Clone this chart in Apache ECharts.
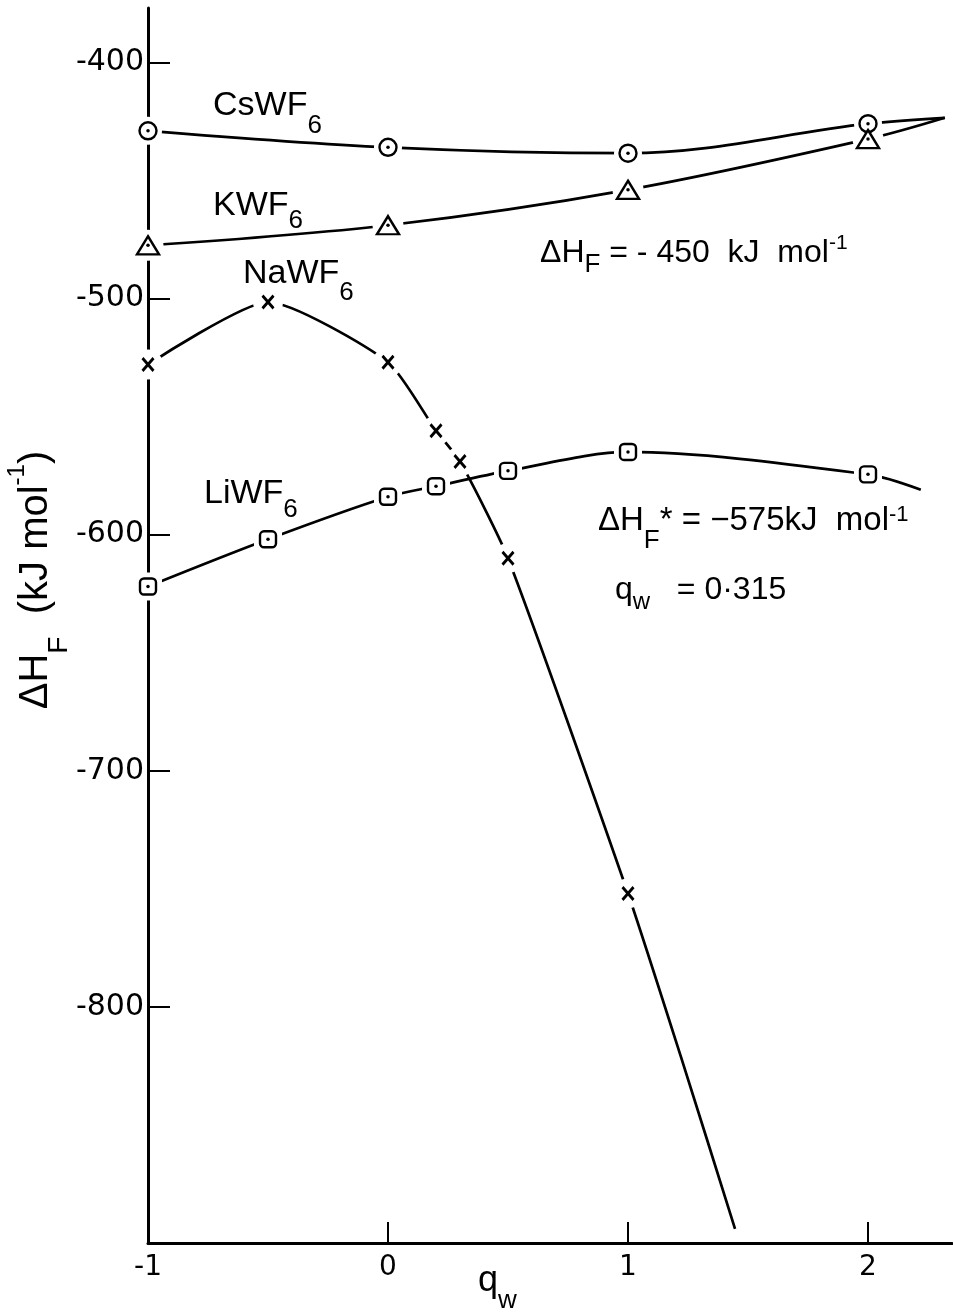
<!DOCTYPE html>
<html><head><meta charset="utf-8">
<script src="https://cdn.jsdelivr.net/npm/echarts@6/dist/echarts.min.js"></script>
<style>html,body{margin:0;padding:0;background:#fff}#c{width:953px;height:1315px}</style>
</head><body><div id="c"></div>
<script>
// ---- data ----
const qCs = [-1, 0, 1, 2];
const hCs = [-429, -436, -438.5, -426];
const tailCs = [[2.32, -423.5]];           // traced end of the CsWF6 curve
const qK = [-1, 0, 1, 2];
const hK = [-477.5, -469, -454, -432.5];
const tailK = [[2.32, -423.5]];            // traced end of the KWF6 curve
const qNa = [-1, -0.5, 0, 0.2, 0.3, 0.5, 1];
const hNa = [-528, -501.5, -527, -556, -569, -610, -752];
const tailNa = [[1.22, -821], [1.446, -894]]; // traced continuation of NaWF6 curve
const qLi = [-1, -0.5, 0, 0.2, 0.5, 1, 2];
const hLi = [-622, -602, -584, -579.5, -573, -565, -574.5];
const tailLi = [[2.22, -581]];             // traced end of the LiWF6 curve
const xTickLabels = [-1, 0, 1, 2];
const xTickMarks = [0, 1, 2];
const yTickLabels = [-800, -700, -600, -500, -400];

// ---- build ----
const FONT = "'Liberation Sans', Arial, sans-serif";
const TICKFONT = "'DejaVu Sans', 'Liberation Sans', sans-serif";
const zip = (q, h) => q.map((v, i) => [v, h[i]]);
const cs = zip(qCs, hCs), k = zip(qK, hK), na = zip(qNa, hNa), li = zip(qLi, hLi);
const X_PATH = 'path://M0,1.5L1.5,0L5,3.5L8.5,0L10,1.5L6.5,5L10,8.5L8.5,10L5,6.5L1.5,10L0,8.5L3.5,5Z';

function line(name, pts, sm) {
  return { name, type: 'line', data: pts, smooth: sm, symbol: 'none', showSymbol: false,
    lineStyle: { color: '#000', width: 2.7 }, z: 2, silent: true, animation: false };
}
function halo(pts, symbol, size) {
  return { type: 'scatter', data: pts, symbol, symbolSize: size,
    itemStyle: { color: '#fff', borderWidth: 0, opacity: 1 }, z: 3, silent: true };
}
function mark(pts, symbol, size, filled) {
  return { type: 'scatter', data: pts, symbol, symbolSize: size,
    itemStyle: filled ? { color: '#000', opacity: 1 } : { color: '#fff', borderColor: '#000', borderWidth: 2.4, opacity: 1 },
    z: 4, silent: true };
}
function dot(pts) {
  return { type: 'scatter', data: pts, symbol: 'circle', symbolSize: 3.5,
    itemStyle: { color: '#000', opacity: 1 }, z: 5, silent: true };
}

function T(x, y, text, rich, align, rotation) {
  const r = {};
  for (const key in rich) r[key] = Object.assign({ fontFamily: FONT, fill: '#000' }, rich[key]);
  return { type: 'text', x, y, rotation: rotation || 0, z: 100, silent: true,
    style: { text, rich: r, fontFamily: FONT, fontSize: 30, fill: '#000',
      align: align || 'left', verticalAlign: 'middle', textAlign: align || 'left', textVerticalAlign: 'middle' } };
}
const chem = (pad) => ({ m: { fontSize: 34, lineHeight: 34 }, s: { fontSize: 26, lineHeight: 26, padding: [pad, 0, 0, 0] } });

const option = {
  animation: false,
  backgroundColor: '#fff',
  grid: { left: 148, right: 1, top: 8, bottom: 72, containLabel: false },
  xAxis: {
    type: 'value', min: -1, max: 2.35,
    axisLine: { show: true, onZero: false, lineStyle: { color: '#000', width: 3 } },
    axisTick: { show: true, inside: true, length: 21, customValues: xTickMarks, lineStyle: { color: '#000', width: 2 } },
    axisLabel: { show: true, customValues: xTickLabels, fontSize: 28, color: '#000', fontFamily: TICKFONT, margin: 11 },
    splitLine: { show: false }
  },
  yAxis: {
    type: 'value', min: -900, max: -377, interval: 100,
    axisLine: { show: true, onZero: false, lineStyle: { color: '#000', width: 3 } },
    axisTick: { show: true, inside: true, length: 22, customValues: yTickLabels, lineStyle: { color: '#000', width: 2 } },
    axisLabel: { show: true, customValues: yTickLabels, fontSize: 30, color: '#000', fontFamily: TICKFONT, margin: 4 },
    splitLine: { show: false }
  },
  series: [
    line('CsWF6', cs.concat(tailCs), 0.35),
    line('KWF6', k.concat(tailK), 0.35),
    line('NaWF6', na.concat(tailNa), 0.2),
    line('LiWF6', li.concat(tailLi), 0.3),
    halo(cs, 'circle', 28),
    halo(k, 'circle', 31),
    halo(na, 'circle', 30),
    halo(li, 'roundRect', 28),
    mark(cs, 'circle', 17, false),
    mark(k, 'triangle', [22, 18], false),
    mark(na, X_PATH, [13, 15], true),
    mark(li, 'roundRect', 16, false),
    dot(cs), dot(k), dot(li)
  ],
  graphic: [
    T(213, 106, '{m|CsWF}{s|6}', chem(40)),
    T(213, 206, '{m|KWF}{s|6}', chem(30)),
    T(243, 274, '{m|NaWF}{s|6}', chem(38)),
    T(204, 494, '{m|LiWF}{s|6}', chem(32)),
    T(540, 253, '{m|ΔH}{s|F}{m| = - 450  kJ  mol}{p|-1}',
      { m: { fontSize: 32, lineHeight: 32 }, s: { fontSize: 26, lineHeight: 26, padding: [24, 0, 0, 0] },
        p: { fontSize: 21, lineHeight: 21, padding: [0, 0, 20, 0] } }),
    T(598, 521, '{m|ΔH}{s|F}{m|* = −575kJ  mol}{p|-1}',
      { m: { fontSize: 33, lineHeight: 33 }, s: { fontSize: 26, lineHeight: 26, padding: [40, 0, 0, 0] },
        p: { fontSize: 22, lineHeight: 22, padding: [0, 0, 12, 0] } }),
    T(615, 590, '{m|q}{s|w}{m|   = 0·315}',
      { m: { fontSize: 32, lineHeight: 32 }, s: { fontSize: 24, lineHeight: 24, padding: [24, 0, 0, 0] } }),
    T(478, 1281, '{m|q}{s|w}',
      { m: { fontSize: 36, lineHeight: 36 }, s: { fontSize: 26, lineHeight: 26, padding: [40, 0, 0, 0] } }),
    T(36, 580, '{m|ΔH}{s|F}{m|  (kJ mol}{p|-1}{m|)}',
      { m: { fontSize: 40, lineHeight: 40 }, s: { fontSize: 28, lineHeight: 28, padding: [46, 0, 0, 0] },
        p: { fontSize: 24, lineHeight: 24, padding: [0, 0, 38, 0] } }, 'center', Math.PI / 2)
  ]
};
const chart = echarts.init(document.getElementById('c'), null, { renderer: 'canvas' });
chart.setOption(option);
</script>
</body></html>
